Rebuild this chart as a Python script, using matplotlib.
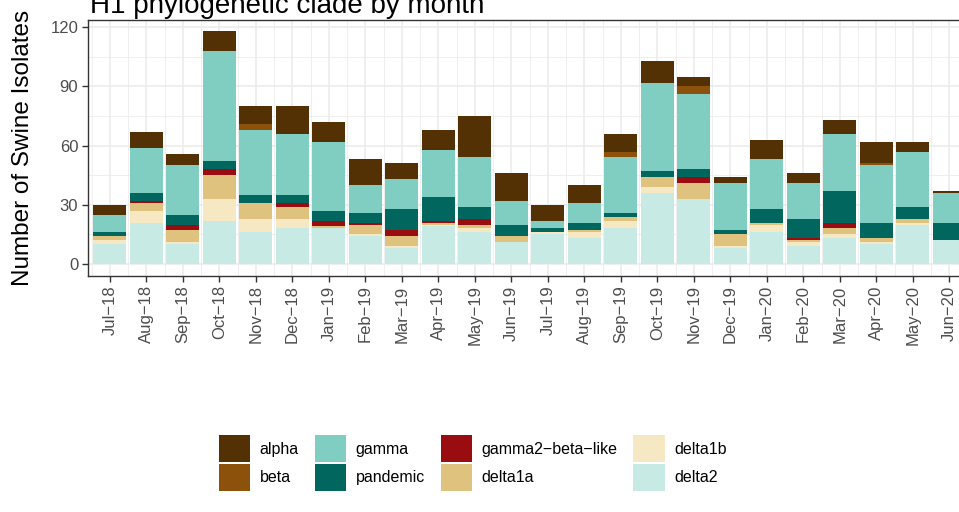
import numpy as np
import matplotlib
matplotlib.use('Agg')
import matplotlib.pyplot as plt
from matplotlib.patches import Patch

plt.rcParams['font.family'] = ['Liberation Sans', 'DejaVu Sans']

# 月ラベル
months = ["Jul\u221218", "Aug\u221218", "Sep\u221218", "Oct\u221218", "Nov\u221218", "Dec\u221218",
          "Jan\u221219", "Feb\u221219", "Mar\u221219", "Apr\u221219", "May\u221219", "Jun\u221219",
          "Jul\u221219", "Aug\u221219", "Sep\u221219", "Oct\u221219", "Nov\u221219", "Dec\u221219",
          "Jan\u221220", "Feb\u221220", "Mar\u221220", "Apr\u221220", "May\u221220", "Jun\u221220"]

# クレードごとの分離株数 (下から積む順)
delta2 = [10, 21, 10, 22, 16, 18, 18, 14, 8, 19, 16, 11, 15, 13, 18, 36, 33, 8, 16, 9, 13, 10, 20, 12]
delta1b = [2, 6, 1, 11, 7, 5, 0, 1, 1, 1, 2, 0, 1, 3, 4, 3, 0, 1, 4, 2, 2, 1, 1, 0]
delta1a = [2, 4, 6, 12, 8, 6, 1, 5, 5, 1, 2, 3, 0, 1, 2, 5, 8, 6, 1, 1, 3, 2, 2, 0]
gamma2_beta_like = [0, 1, 3, 3, 0, 2, 3, 1, 3, 1, 3, 0, 0, 0, 0, 0, 3, 0, 0, 1, 3, 0, 0, 0]
pandemic = [2, 4, 5, 4, 4, 4, 5, 5, 11, 12, 6, 6, 2, 4, 2, 3, 4, 2, 7, 10, 16, 8, 6, 9]
gamma = [9, 23, 25, 56, 33, 31, 35, 14, 15, 24, 25, 12, 4, 10, 28, 45, 38, 24, 25, 18, 29, 29, 28, 15]
beta = [0, 0, 0, 0, 3, 0, 0, 0, 0, 0, 0, 0, 0, 0, 3, 0, 4, 0, 0, 0, 0, 1, 0, 0]
alpha = [5, 8, 6, 10, 9, 14, 10, 13, 8, 10, 21, 14, 8, 9, 9, 11, 5, 3, 10, 5, 7, 11, 5, 1]

stack = [
    ("delta2", delta2, "#c7eae5"),
    ("delta1b", delta1b, "#f6e8c3"),
    ("delta1a", delta1a, "#dfc27d"),
    ("gamma2\u2212beta\u2212like", gamma2_beta_like, "#990c10"),
    ("pandemic", pandemic, "#01665e"),
    ("gamma", gamma, "#80cdc1"),
    ("beta", beta, "#8c510a"),
    ("alpha", alpha, "#543005"),
]

W, H = 959, 512
fig = plt.figure(figsize=(W / 100, H / 100), dpi=100)
ax = fig.add_axes([88 / W, (H - 275.6) / H, (971.3 - 88) / W, 256 / H])

x = np.arange(len(months))
bottom = np.zeros(len(months))
for name, vals, col in stack:
    vals = np.array(vals)
    ax.bar(x, vals, width=0.9, bottom=bottom, color=col, linewidth=0, zorder=3)
    bottom += vals

ax.set_xlim(-0.6, len(months) - 0.4)
ax.set_ylim(-5.9, 123.9)
ax.set_yticks([0, 30, 60, 90, 120])
ax.set_yticks([15, 45, 75, 105], minor=True)
ax.set_xticks(x)
ax.set_xticks(np.arange(-0.5, len(months), 1.0), minor=True)
ax.set_xticklabels(months, rotation=90, fontsize=12, color="#4d4d4d")
ax.tick_params(axis="y", labelsize=12, labelcolor="#4d4d4d")
ax.tick_params(which="major", length=4, width=1.0, color="#333333", pad=3)
ax.tick_params(which="minor", length=0)

ax.grid(which="major", color="#ebebeb", linewidth=1.1, zorder=0)
ax.grid(which="minor", color="#ebebeb", linewidth=0.55, zorder=0)
ax.set_axisbelow(True)
for s in ax.spines.values():
    s.set_color("#333333")
    s.set_linewidth(1.0)
    s.set_zorder(4)

# タイトル・軸ラベル
fig.text(90 / W, 1 - 12.7 / H, "H1 phylogenetic clade by month", fontsize=20, va="baseline", ha="left")
fig.text(23 / W, 1 - 148 / H, "Number of Swine Isolates", fontsize=17.5, rotation=90, va="center", ha="center")

# 凡例 (列優先で2行)
order = ["alpha", "beta", "gamma", "pandemic", "gamma2\u2212beta\u2212like", "delta1a", "delta1b", "delta2"]
colors = {name: col for name, _, col in stack}
handles = [Patch(facecolor=colors[n], edgecolor="none", label=n) for n in order]
fig.legend(handles=handles, ncol=4, loc="upper left", bbox_to_anchor=(219 / W, 1 - 435 / H),
           frameon=False, fontsize=11.5, handlelength=1.95, handleheight=2.25,
           labelspacing=0.1, handletextpad=0.6, columnspacing=1.0, borderpad=0, borderaxespad=0)

plt.savefig("out.png", dpi=100)
